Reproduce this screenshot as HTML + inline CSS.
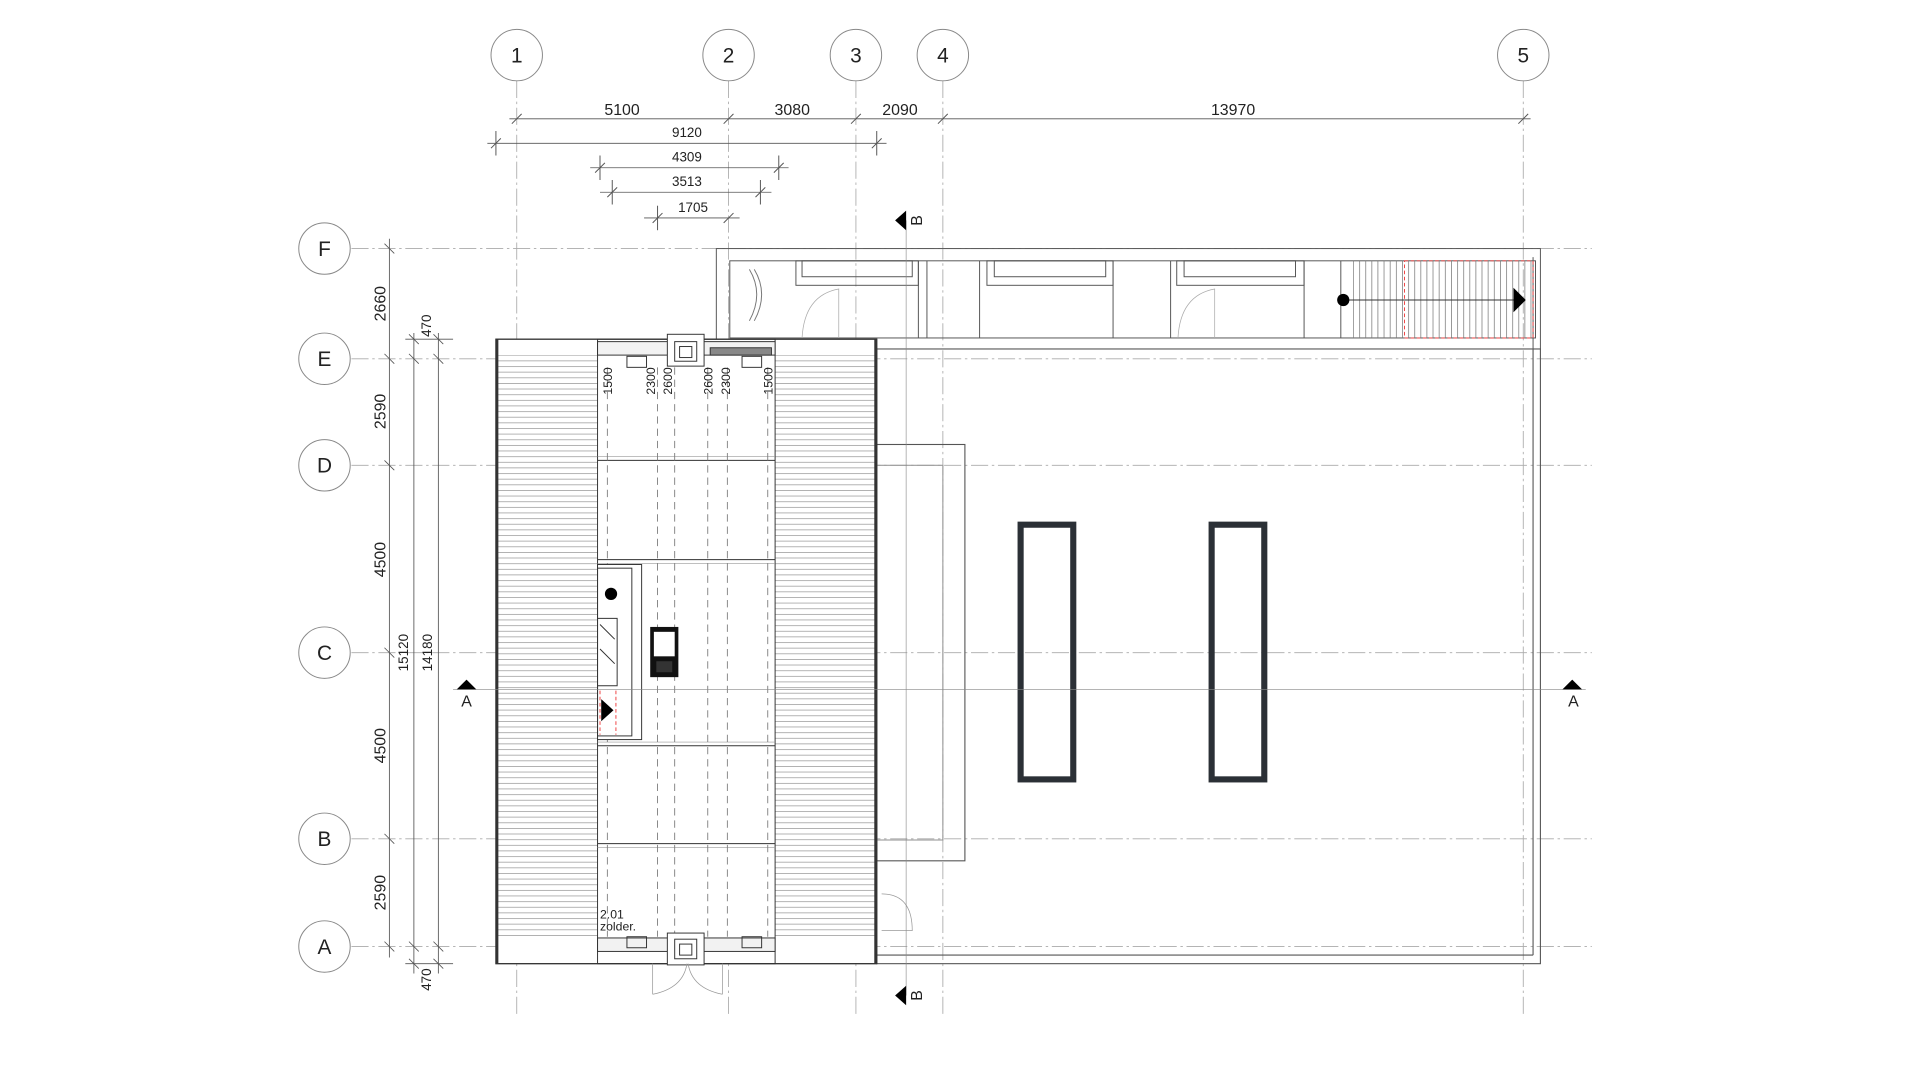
<!DOCTYPE html>
<html><head><meta charset="utf-8"><style>
html,body{margin:0;padding:0;background:#fff;}
svg{display:block;}
text{font-family:"Liberation Sans",sans-serif;fill:#222;}
</style></head><body>
<svg width="1920" height="1080" viewBox="0 0 1568 882" xmlns="http://www.w3.org/2000/svg">
<defs>
<pattern id="hh" width="10" height="4.6" patternUnits="userSpaceOnUse"><rect width="10" height="4.6" fill="#fff"/><line x1="0" y1="0.3" x2="10" y2="0.3" stroke="#999" stroke-width="0.6"/></pattern>
<pattern id="vv" width="5" height="10" patternUnits="userSpaceOnUse"><line x1="0.3" y1="0" x2="0.3" y2="10" stroke="#777" stroke-width="0.6"/></pattern>
</defs>
<rect width="1568" height="882" fill="#fff"/>
<g stroke="#aaa" stroke-width="0.7" stroke-dasharray="14 3 2 3" fill="none">
<line x1="422" y1="66" x2="422" y2="830"/><line x1="595" y1="66" x2="595" y2="830"/>
<line x1="699" y1="66" x2="699" y2="830"/><line x1="770" y1="66" x2="770" y2="830"/>
<line x1="1244" y1="66" x2="1244" y2="830"/>
<line x1="287" y1="203" x2="1300" y2="203"/><line x1="287" y1="293" x2="1300" y2="293"/>
<line x1="287" y1="380" x2="1300" y2="380"/><line x1="287" y1="533" x2="1300" y2="533"/>
<line x1="287" y1="685" x2="1300" y2="685"/><line x1="287" y1="773" x2="1300" y2="773"/>
</g>
<g fill="#fff" stroke="#888" stroke-width="0.8">
<circle cx="422" cy="45" r="21"/><circle cx="595" cy="45" r="21"/><circle cx="699" cy="45" r="21"/><circle cx="770" cy="45" r="21"/><circle cx="1244" cy="45" r="21"/>
<circle cx="265" cy="203" r="21"/><circle cx="265" cy="293" r="21"/><circle cx="265" cy="380" r="21"/><circle cx="265" cy="533" r="21"/><circle cx="265" cy="685" r="21"/><circle cx="265" cy="773" r="21"/>
</g>
<g font-size="17" text-anchor="middle">
<text x="422" y="51">1</text><text x="595" y="51">2</text><text x="699" y="51">3</text><text x="770" y="51">4</text><text x="1244" y="51">5</text>
<text x="265" y="209">F</text><text x="265" y="299">E</text><text x="265" y="386">D</text><text x="265" y="539">C</text><text x="265" y="691">B</text><text x="265" y="779">A</text>
</g>
<g stroke="#555" stroke-width="0.7">
<line x1="416" y1="97" x2="1250" y2="97"/>
<line x1="398" y1="117" x2="724" y2="117"/>
<line x1="482" y1="137" x2="644" y2="137"/>
<line x1="490" y1="157" x2="630" y2="157"/>
<line x1="526" y1="178" x2="604" y2="178"/>
<g stroke-width="0.8">
<path d="M418 101l8-8M591 101l8-8M695 101l8-8M766 101l8-8M1240 101l8-8"/>
<path d="M401 121l8-8M712 121l8-8M486 141l8-8M632 141l8-8M496 161l8-8M617 161l8-8M533 182l8-8M591 182l8-8"/>
<line x1="405" y1="107" x2="405" y2="127"/><line x1="716" y1="107" x2="716" y2="127"/>
<line x1="490" y1="127" x2="490" y2="147"/><line x1="636" y1="127" x2="636" y2="147"/>
<line x1="500" y1="147" x2="500" y2="167"/><line x1="621" y1="147" x2="621" y2="167"/>
<line x1="537" y1="168" x2="537" y2="188"/>
</g></g>
<g font-size="13" text-anchor="middle"><text x="508" y="94">5100</text><text x="647" y="94">3080</text><text x="735" y="94">2090</text><text x="1007" y="94">13970</text></g>
<g font-size="11" text-anchor="middle"><text x="561" y="112">9120</text><text x="561" y="132">4309</text><text x="561" y="152">3513</text><text x="566" y="173">1705</text></g>
<g stroke="#555" stroke-width="0.7">
<line x1="318" y1="195" x2="318" y2="782"/>
<line x1="338" y1="272" x2="338" y2="795"/>
<line x1="358" y1="272" x2="358" y2="795"/>
<line x1="331" y1="277" x2="370" y2="277"/><line x1="331" y1="787" x2="370" y2="787"/>
<path d="M314 199l8 8M314 289l8 8M314 376l8 8M314 529l8 8M314 681l8 8M314 769l8 8"/>
<path d="M334 273l8 8M354 273l8 8M334 289l8 8M354 289l8 8M334 769l8 8M354 769l8 8M334 783l8 8M354 783l8 8"/>
</g>
<g font-size="13" text-anchor="middle">
<text transform="translate(315,248) rotate(-90)">2660</text>
<text transform="translate(315,336) rotate(-90)">2590</text>
<text transform="translate(315,457) rotate(-90)">4500</text>
<text transform="translate(315,609) rotate(-90)">4500</text>
<text transform="translate(315,729) rotate(-90)">2590</text>
</g>
<g font-size="11" text-anchor="middle">
<text transform="translate(352,266) rotate(-90)">470</text>
<text transform="translate(352,800) rotate(-90)">470</text>
<text transform="translate(333,533) rotate(-90)">15120</text>
<text transform="translate(353,533) rotate(-90)">14180</text>
</g>
<g fill="none" stroke="#555" stroke-width="0.8">
<rect x="585" y="203" width="673" height="82"/>
<rect x="596" y="213" width="658" height="63"/>
<line x1="1252" y1="210" x2="1252" y2="285"/>
<path d="M750 213v63M757 213v63M800 213v63M909 213v63M956 213v63M1065 213v63M1095 213v63"/>
<rect x="650" y="213" width="100" height="20"/><rect x="655" y="213" width="90" height="13"/>
<rect x="806" y="213" width="103" height="20"/><rect x="812" y="213" width="91" height="13"/>
<rect x="961" y="213" width="104" height="20"/><rect x="967" y="213" width="91" height="13"/>
<path d="M612 220q12 20 0 42M616 220q12 20 0 42" stroke="#777"/>
<path d="M655 276q2-35 30-40v40M962 276q2-35 30-40v40" stroke="#aaa" stroke-width="0.6"/>
</g>
<rect x="1105" y="213" width="147" height="63" fill="url(#vv)"/>
<rect x="1147" y="213" width="105" height="63" fill="none" stroke="#e44" stroke-width="0.8" stroke-dasharray="3 2"/>
<line x1="1097" y1="245" x2="1240" y2="245" stroke="#333" stroke-width="0.8"/>
<circle cx="1097" cy="245" r="5" fill="#000"/>
<path d="M1236 235l10 10-10 10z" fill="#000"/>
<g fill="none" stroke="#555" stroke-width="0.9">
<rect x="716" y="285" width="542" height="502"/>
<line x1="1252" y1="285" x2="1252" y2="780"/><line x1="716" y1="780" x2="1252" y2="780"/>
<rect x="716" y="363" width="72" height="340"/>
<rect x="716" y="380" width="54" height="306" stroke="#999"/>
<path d="M720 730q25 0 25 30h-25" stroke="#999" stroke-width="0.6"/>
</g>
<rect x="833.5" y="428.5" width="43" height="208" fill="none" stroke="#2b3036" stroke-width="5"/>
<rect x="989.5" y="428.5" width="43" height="208" fill="none" stroke="#2b3036" stroke-width="5"/>
<rect x="405" y="277" width="311" height="510" fill="#fff" stroke="#333" stroke-width="1"/>
<rect x="405" y="290" width="83" height="475" fill="url(#hh)"/>
<rect x="633" y="290" width="83" height="475" fill="url(#hh)"/>
<g fill="none" stroke="#333">
<line x1="406" y1="277" x2="406" y2="787" stroke-width="2"/><line x1="715" y1="277" x2="715" y2="787" stroke-width="2"/>
<rect x="405" y="277" width="311" height="510" stroke-width="0.8"/>
<rect x="488" y="277" width="145" height="510" stroke-width="0.8"/>
<path d="M488 376h145M488 457h145M488 609h145M488 689h145" stroke-width="0.8"/>
<path d="M488 373h145M488 460h145M488 606h145M488 692h145" stroke="#999" stroke-width="0.5"/>
</g>
<g stroke="#777" stroke-width="0.7" stroke-dasharray="6 4">
<path d="M496 300v465M537 300v465M551 300v465M578 300v465M594 300v465M627 300v465"/>
</g>
<g font-size="10" text-anchor="end">
<text transform="translate(500,300) rotate(-90)">1500</text>
<text transform="translate(535,300) rotate(-90)">2300</text>
<text transform="translate(549,300) rotate(-90)">2600</text>
<text transform="translate(582,300) rotate(-90)">2600</text>
<text transform="translate(596,300) rotate(-90)">2300</text>
<text transform="translate(631,300) rotate(-90)">1500</text>
</g>
<g fill="none" stroke="#333" stroke-width="0.8">
<rect x="488" y="279" width="145" height="11" fill="#f2f2f2"/>
<rect x="545" y="273" width="30" height="26" fill="#fff"/><rect x="551" y="279" width="18" height="16"/><rect x="555" y="283" width="10" height="9"/>
<rect x="580" y="284" width="50" height="6" fill="#888"/>
<rect x="512" y="291" width="16" height="9"/><rect x="606" y="291" width="16" height="9"/>
<rect x="488" y="766" width="145" height="11" fill="#f2f2f2"/>
<rect x="545" y="762" width="30" height="26" fill="#fff"/><rect x="551" y="767" width="18" height="16"/><rect x="555" y="771" width="10" height="9"/>
<rect x="512" y="765" width="16" height="9"/><rect x="606" y="765" width="16" height="9"/>
<path d="M533 787v25M590 787v25M533 812q25-5 28-25M590 812q-25-5-28-25" stroke="#999" stroke-width="0.6"/>
</g>
<g fill="none" stroke="#333" stroke-width="0.8">
<rect x="488" y="461" width="36" height="143" fill="#fff"/>
<rect x="488" y="464" width="28" height="137"/>
<path d="M488 505h16v55h-16M490 510l12 12M490 530l12 12"/>
</g>
<line x1="490" y1="564" x2="490" y2="600" stroke="#e44" stroke-dasharray="3 2" stroke-width="0.8"/>
<line x1="503" y1="564" x2="503" y2="600" stroke="#e44" stroke-dasharray="3 2" stroke-width="0.8"/>
<circle cx="499" cy="485" r="5" fill="#000"/>
<path d="M491 571l10 9-10 9z" fill="#000"/>
<rect x="531" y="512" width="23" height="41" fill="#111"/>
<rect x="534" y="516" width="17" height="20" fill="#fff"/>
<rect x="536" y="540" width="13" height="9" fill="#333"/>
<text x="490" y="750" font-size="10">2.01</text><text x="490" y="760" font-size="10">zolder.</text>
<line x1="370" y1="563" x2="1295" y2="563" stroke="#888" stroke-width="0.5"/>
<line x1="740" y1="180" x2="740" y2="813" stroke="#888" stroke-width="0.5"/>
<path d="M373 563l8-8 8 8z" fill="#000"/><path d="M1276 563l8-8 8 8z" fill="#000"/>
<text x="381" y="577" font-size="13" text-anchor="middle">A</text><text x="1285" y="577" font-size="13" text-anchor="middle">A</text>
<path d="M740 172l-9 8 9 8z" fill="#000"/><path d="M740 805l-9 8 9 8z" fill="#000"/>
<text transform="translate(753,180) rotate(-90)" font-size="13" text-anchor="middle">B</text>
<text transform="translate(753,813) rotate(-90)" font-size="13" text-anchor="middle">B</text>
</svg>
</body></html>
